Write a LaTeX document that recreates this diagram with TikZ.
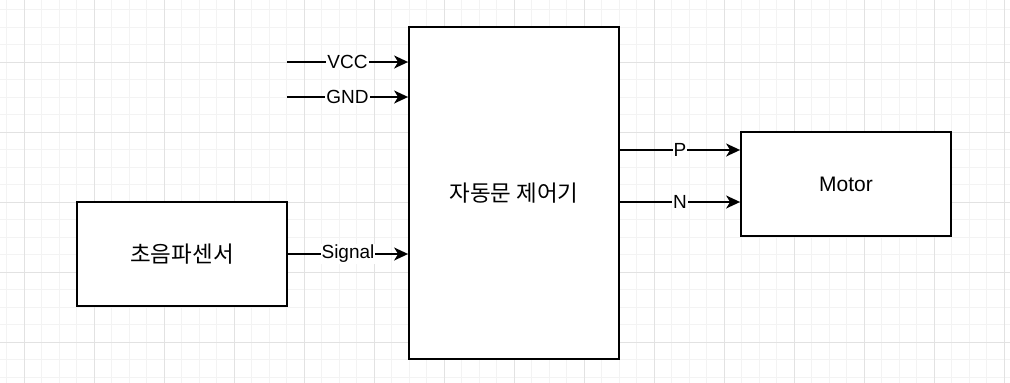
\documentclass[tikz,border=0pt]{standalone}
\usepackage{fontspec}
\setmainfont{Liberation Sans}
\newfontfamily\kr{Noto Sans CJK KR}
\usetikzlibrary{arrows.meta}
\definecolor{gridminor}{HTML}{F3F3F3}
\definecolor{gridmajor}{HTML}{E2E2E2}
\begin{document}
\begin{tikzpicture}[x=1pt,y=-1pt,
  box/.style={draw=black,line width=1.8pt,fill=white,minimum width=210pt,inner sep=0pt,font=\fontsize{21}{25}\selectfont},
  krtext/.style={font=\kr\fontsize{22.5}{26}\selectfont},
  arr/.style={line width=1.8pt,-{Stealth[length=14pt,width=13pt,inset=4pt]}},
  lbl/.style={fill=white,inner sep=1pt,font=\fontsize{19}{22}\selectfont}]
\useasboundingbox (0,0) rectangle (1010,383);
\fill[white] (0,0) rectangle (1010,383);
\foreach \k in {0,...,57} {\draw[gridminor,line width=1pt] ({6.5+17.5*\k},0) -- ({6.5+17.5*\k},383);}
\foreach \k in {0,...,21} {\draw[gridminor,line width=1pt] (0,{9.5+17.5*\k}) -- (1010,{9.5+17.5*\k});}
\foreach \k in {0,...,14} {\draw[gridmajor,line width=1pt] ({24+70*\k},0) -- ({24+70*\k},383);}
\foreach \k in {0,...,4} {\draw[gridmajor,line width=1pt] (0,{62+70*\k}) -- (1010,{62+70*\k});}

\node[box,krtext,minimum height=104pt] (sensor) at (182,254) {초음파센서};
\node[box,krtext,minimum height=332pt] (ctrl) at (514,193) {자동문 제어기};
\node[box,minimum height=104pt] (motor) at (846,184) {Motor};

\coordinate (vcc) at (287,62);
\coordinate (gnd) at (287,97);
\draw[arr] (vcc) -- (vcc -| ctrl.west) node[midway,lbl] {VCC};
\draw[arr] (gnd) -- (gnd -| ctrl.west) node[midway,lbl] {GND};
\draw[arr] (sensor.east) -- (sensor.east -| ctrl.west) node[midway,lbl] {Signal};
\draw[arr] (ctrl.east |- 0,150) -- (motor.west |- 0,150) node[midway,lbl] {P};
\draw[arr] (ctrl.east |- 0,202) -- (motor.west |- 0,202) node[midway,lbl] {N};
\end{tikzpicture}
\end{document}
